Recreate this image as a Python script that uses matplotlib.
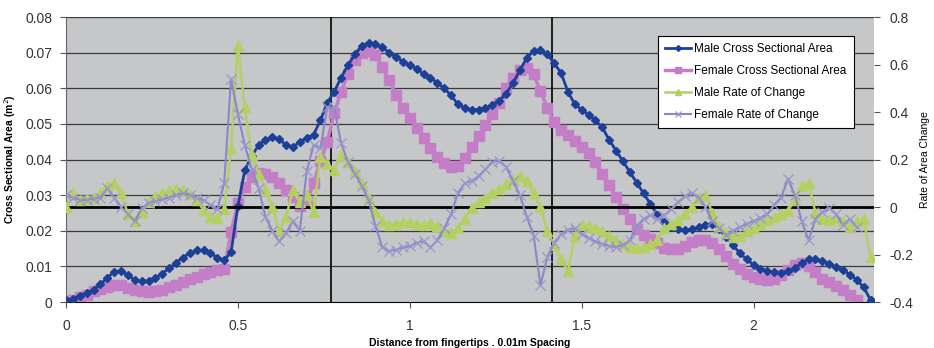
import numpy as np
import matplotlib.pyplot as plt

plt.rcParams['font.family'] = ['Liberation Sans', 'DejaVu Sans']

# sampled every 0.02 m from the fingertips
step = 0.02

male_area = [
    0.0005, 0.0010, 0.0017, 0.0025, 0.0035, 0.0050, 0.0068, 0.0085, 0.0088, 0.0075,
    0.0062, 0.0058, 0.0060, 0.0068, 0.0080, 0.0095, 0.0110, 0.0125, 0.0137, 0.0145,
    0.0145, 0.0137, 0.0125, 0.0117, 0.0140, 0.0270, 0.0370, 0.0410, 0.0440, 0.0455,
    0.0463, 0.0458, 0.0440, 0.0435, 0.0450, 0.0460, 0.0470, 0.0510, 0.0560, 0.0590,
    0.0630, 0.0665, 0.0695, 0.0718, 0.0728, 0.0725, 0.0715, 0.0700, 0.0688, 0.0675,
    0.0665, 0.0655, 0.0640, 0.0630, 0.0615, 0.0600, 0.0580, 0.0555, 0.0545, 0.0540,
    0.0540, 0.0545, 0.0553, 0.0565, 0.0585, 0.0615, 0.0650, 0.0685, 0.0705, 0.0708,
    0.0695, 0.0670, 0.0643, 0.0590, 0.0555, 0.0540, 0.0525, 0.0510, 0.0490, 0.0455,
    0.0425, 0.0395, 0.0365, 0.0335, 0.0305, 0.0275, 0.0245, 0.0225, 0.0212, 0.0205,
    0.0203, 0.0204, 0.0210, 0.0216, 0.0219, 0.0205, 0.0183, 0.0160, 0.0137, 0.0120,
    0.0104, 0.0094, 0.0087, 0.0083, 0.0082, 0.0087, 0.0095, 0.0110, 0.0120, 0.0121,
    0.0115, 0.0108, 0.0098, 0.0090, 0.0077, 0.0062, 0.0042, 0.0006,
]

female_area = [
    0.0000, 0.0007, 0.0014, 0.0021, 0.0030, 0.0037, 0.0043, 0.0048, 0.0047, 0.0040,
    0.0034, 0.0030, 0.0029, 0.0031, 0.0035, 0.0041, 0.0048, 0.0056, 0.0064, 0.0071,
    0.0078, 0.0085, 0.0089, 0.0092, 0.0197, 0.0278, 0.0322, 0.0350, 0.0362, 0.0360,
    0.0350, 0.0334, 0.0315, 0.0295, 0.0270, 0.0280, 0.0334, 0.0395, 0.0450, 0.0530,
    0.0590, 0.0640, 0.0680, 0.0700, 0.0705, 0.0693, 0.0660, 0.0622, 0.0580, 0.0545,
    0.0517, 0.0488, 0.0460, 0.0432, 0.0408, 0.0390, 0.0380, 0.0383, 0.0405, 0.0435,
    0.0465, 0.0497, 0.0528, 0.0560, 0.0600, 0.0630, 0.0650, 0.0657, 0.0640, 0.0592,
    0.0545, 0.0505, 0.0482, 0.0469, 0.0453, 0.0435, 0.0418, 0.0392, 0.0360, 0.0328,
    0.0295, 0.0262, 0.0232, 0.0205, 0.0188, 0.0176, 0.0165, 0.0152, 0.0148, 0.0150,
    0.0158, 0.0168, 0.0175, 0.0174, 0.0166, 0.0148, 0.0128, 0.0108, 0.0092, 0.0080,
    0.0070, 0.0064, 0.0062, 0.0066, 0.0075, 0.0090, 0.0105, 0.0110, 0.0102, 0.0085,
    0.0064, 0.0055, 0.0046, 0.0035, 0.0020, 0.0005,
]

male_rate = [
    0.00, 0.06, 0.03, 0.035, 0.04, 0.06, 0.09, 0.10, 0.06, -0.03,
    -0.06, -0.02, 0.02, 0.045, 0.06, 0.07, 0.075, 0.072, 0.055, 0.03,
    -0.013, -0.04, -0.045, -0.01, 0.25, 0.68, 0.42, 0.22, 0.14, 0.07,
    0.00, -0.10, -0.04, 0.07, 0.02, 0.05, -0.02, 0.21, 0.18, 0.155,
    0.22, 0.19, 0.15, 0.10, 0.04, -0.02, -0.06, -0.075, -0.07, -0.065,
    -0.065, -0.07, -0.075, -0.068, -0.08, -0.10, -0.11, -0.09, -0.05, -0.005,
    0.02, 0.04, 0.06, 0.075, 0.095, 0.115, 0.13, 0.11, 0.06, 0.00,
    -0.10, -0.16, -0.22, -0.27, -0.12, -0.076, -0.08, -0.09, -0.10, -0.12,
    -0.14, -0.155, -0.17, -0.172, -0.17, -0.155, -0.14, -0.09, -0.07, -0.055,
    -0.03, 0.00, 0.04, 0.05, -0.025, -0.08, -0.11, -0.125, -0.12, -0.10,
    -0.09, -0.07, -0.055, -0.04, -0.028, -0.015, 0.03, 0.09, 0.10, -0.025,
    -0.05, -0.055, -0.045, -0.06, -0.084, -0.06, -0.05, -0.21,
]

female_rate = [
    0.05, 0.04, 0.03, 0.03, 0.035, 0.04, 0.08, 0.04, 0.00, -0.03,
    -0.06, -0.005, 0.017, 0.025, 0.032, 0.04, 0.05, 0.058, 0.05, 0.04,
    0.028, 0.01, -0.01, 0.10, 0.54, 0.39, 0.26, 0.16, 0.08, -0.04,
    -0.10, -0.145, -0.11, -0.06, -0.10, 0.15, 0.26, 0.25, 0.42, 0.42,
    0.27, 0.19, 0.14, 0.09, 0.03, -0.08, -0.17, -0.185, -0.18, -0.17,
    -0.165, -0.15, -0.145, -0.17, -0.14, -0.09, -0.03, 0.06, 0.10, 0.11,
    0.13, 0.16, 0.19, 0.195, 0.17, 0.11, 0.05, -0.04, -0.12, -0.33,
    -0.21, -0.15, -0.115, -0.095, -0.09, -0.115, -0.13, -0.145, -0.155, -0.165,
    -0.168, -0.16, -0.14, -0.08, -0.05, -0.034, -0.05, -0.035, -0.01, 0.02,
    0.045, 0.06, 0.04, 0.00, -0.06, -0.09, -0.118, -0.10, -0.085, -0.07,
    -0.06, -0.045, -0.03, 0.01, 0.04, 0.12, 0.05, -0.06, -0.14, -0.05,
    -0.02, -0.005, -0.03, -0.076, -0.05, -0.085,
]

def xs(vals):
    return np.arange(len(vals)) * step

fig = plt.figure(figsize=(9.34, 3.48), dpi=100)
ax = fig.add_axes([0.0707, 0.132, 0.865, 0.819])
ax.set_facecolor('#c5c7c9')
ax2 = ax.twinx()

ax.set_xlim(0, 2.35)
ax.set_ylim(0, 0.08)
ax2.set_ylim(-0.4, 0.8)

for y in np.arange(0.01, 0.081, 0.01):
    ax.axhline(y, color='#3a3a3a', lw=0.9, zorder=1)
ax.axvline(0.77, color='black', lw=1.2, zorder=1)
ax.axvline(1.415, color='black', lw=1.2, zorder=1)
ax2.axhline(0, color='black', lw=2, zorder=1)

l1, = ax.plot(xs(male_area), male_area, color='#1c3f97', lw=2, marker='D',
              ms=4.2, mec='#1c3f97', zorder=3, label='Male Cross Sectional Area')
l2, = ax.plot(xs(female_area), female_area, color='#c47ec8', lw=2.5, marker='s',
              ms=7, mec='#c47ec8', zorder=2, label='Female Cross Sectional Area')
l3, = ax2.plot(xs(male_rate), male_rate, color='#b4d062', lw=1.8, marker='^',
               ms=7, mec='#b4d062', zorder=2, label='Male Rate of Change')
l4, = ax2.plot(xs(female_rate), female_rate, color='#8c87c6', lw=1.5, marker='x',
               ms=7, mew=0.9, mec='#9a96cc', zorder=3, label='Female Rate of Change')

ax.set_xticks([0, 0.5, 1, 1.5, 2])
ax.set_xticklabels(['0', '0.5', '1', '1.5', '2'])
ax.set_yticks(np.arange(0, 0.081, 0.01))
ax.set_yticklabels(['0', '0.01', '0.02', '0.03', '0.04', '0.05', '0.06', '0.07', '0.08'])
ax2.set_yticks([-0.4, -0.2, 0, 0.2, 0.4, 0.6, 0.8])
ax2.set_yticklabels(['-0.4', '-0.2', '0', '0.2', '0.4', '0.6', '0.8'])

for a in (ax, ax2):
    a.tick_params(labelsize=10, colors='#555555', labelcolor='#333333', length=4, width=0.8)
    for s in a.spines.values():
        s.set_visible(False)
ax.spines['bottom'].set_visible(True)
ax.spines['bottom'].set_color('black')
ax.spines['left'].set_visible(True)
ax.spines['left'].set_color('#666666')
ax.tick_params(axis='x', pad=8)
ax.tick_params(axis='y', pad=6)
ax2.tick_params(axis='y', pad=7)

ax.set_xlabel('Distance from fingertips . 0.01m Spacing', fontsize=7.5,
              fontweight='bold', labelpad=4)
ax.set_ylabel('Cross Sectional Area (m$^2$)', fontsize=7.5, fontweight='bold')
ax.yaxis.set_label_coords(-0.059, 0.5)
ax2.set_ylabel('Rate of Area Change', fontsize=7.5)
ax2.yaxis.set_label_coords(1.057, 0.5)

leg = ax2.legend(handles=[l1, l2, l3, l4], loc='upper left',
                 bbox_to_anchor=(0.725, 0.955), fontsize=8.5, frameon=True,
                 fancybox=False, edgecolor='black', framealpha=1,
                 handlelength=2.2, handletextpad=0.3, borderpad=0.6,
                 labelspacing=0.85, markerscale=0.7)
leg.get_frame().set_linewidth(0.8)

fig.savefig('out.png', dpi=100)
